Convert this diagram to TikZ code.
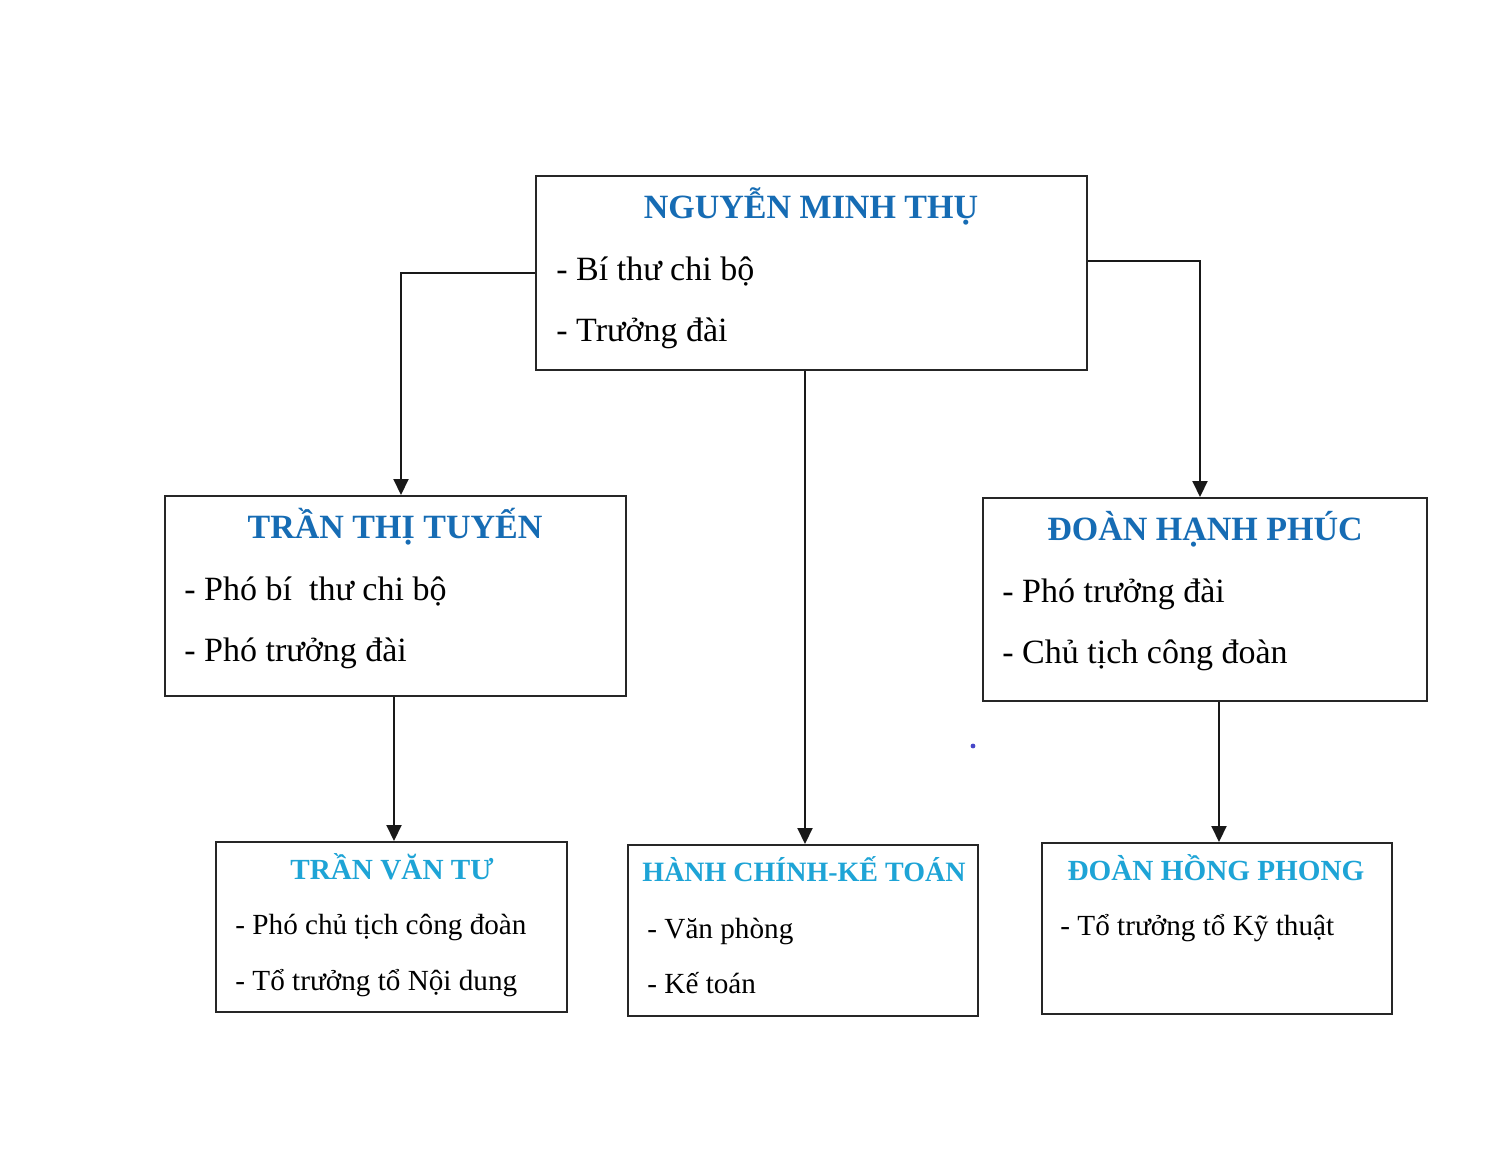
\documentclass[tikz,border=0pt]{standalone}
\usepackage{fontspec}
\setmainfont{Liberation Serif}
\usetikzlibrary{arrows.meta}
\definecolor{darkblue}{RGB}{22,108,180}
\definecolor{lightblue}{RGB}{30,164,214}
\definecolor{dotblue}{RGB}{70,70,200}
\begin{document}
\begin{tikzpicture}[x=0.5pt,y=-0.5pt,
  box/.style={draw=black!85,line width=1pt,rectangle,inner sep=0pt},
  bigtitle/.style={anchor=base,inner sep=0pt,text=darkblue,font=\fontsize{17}{20}\selectfont\bfseries},
  smalltitle/.style={anchor=base,inner sep=0pt,text=lightblue,font=\fontsize{14.6}{17}\selectfont\bfseries},
  bigline/.style={anchor=base west,inner sep=0pt,font=\fontsize{17}{20}\selectfont},
  smallline/.style={anchor=base west,inner sep=0pt,font=\fontsize{14.6}{17}\selectfont},
  conn/.style={draw=black!90,line width=1pt,-{Triangle[length=8pt,width=7.5pt]}}]
\useasboundingbox (0,0) rectangle (1500,1174);
\fill[white] (0,0) rectangle (1500,1174);
% boxes
\node[box,minimum width=275.5pt,minimum height=97pt] (top) at (811.5,273) {};
\node[box,minimum width=230.5pt,minimum height=100pt] (tt) at (395.5,596) {};
\node[box,minimum width=222pt,minimum height=101.5pt] (dh) at (1205,599.5) {};
\node[box,minimum width=175.5pt,minimum height=85pt] (tv) at (391.5,927) {};
\node[box,minimum width=175pt,minimum height=85.5pt] (hc) at (803,930.5) {};
\node[box,minimum width=175pt,minimum height=85.5pt] (hp) at (1217,928.5) {};
% texts top
\node[bigtitle] (t1) at (811,218) {NGUYỄN MINH THỤ};
\node[bigline] (t1a) at (556,280) {- Bí thư chi bộ};
\node[bigline] (t1b) at (556,341) {- Trưởng đài};
% left
\node[bigtitle] (t2) at (395,538) {TRẦN THỊ TUYẾN};
\node[bigline] (t2a) at (184,600) {- Phó bí\ \ thư chi bộ};
\node[bigline] (t2b) at (184,661) {- Phó trưởng đài};
% right
\node[bigtitle] (t3) at (1205,540) {ĐOÀN HẠNH PHÚC};
\node[bigline] (t3a) at (1002,602) {- Phó trưởng đài};
\node[bigline] (t3b) at (1002,663) {- Chủ tịch công đoàn};
% bottom left
\node[smalltitle] (t4) at (392,879) {TRẦN VĂN TƯ};
\node[smallline] (t4a) at (235,934) {- Phó chủ tịch công đoàn};
\node[smallline] (t4b) at (235,990) {- Tổ trưởng tổ Nội dung};
% bottom middle
\node[smalltitle,font=\fontsize{14}{17}\selectfont\bfseries] (t5) at (804,881) {HÀNH CHÍNH-KẾ TOÁN};
\node[smallline] (t5a) at (647,938) {- Văn phòng};
\node[smallline] (t5b) at (647,993) {- Kế toán};
% bottom right
\node[smalltitle] (t6) at (1216,880) {ĐOÀN HỒNG PHONG};
\node[smallline] (t6a) at (1060,935) {- Tổ trưởng tổ Kỹ thuật};
% connectors
\draw[conn] (top.west) -| ([xshift=2.75pt]tt.north);
\draw[conn] ([yshift=6pt]top.east) -| ([xshift=-2.5pt]dh.north);
\draw[conn] ([xshift=1pt]hc.north |- top.south) -- ([xshift=1pt]hc.north);
\draw[conn] ([xshift=-0.75pt]tt.south) -- ([xshift=1.25pt]tv.north);
\draw[conn] ([xshift=7pt]dh.south) -- ([xshift=1pt]hp.north);
% stray dot
\fill[dotblue] (973,746) circle (1.2pt);
\end{tikzpicture}
\end{document}
